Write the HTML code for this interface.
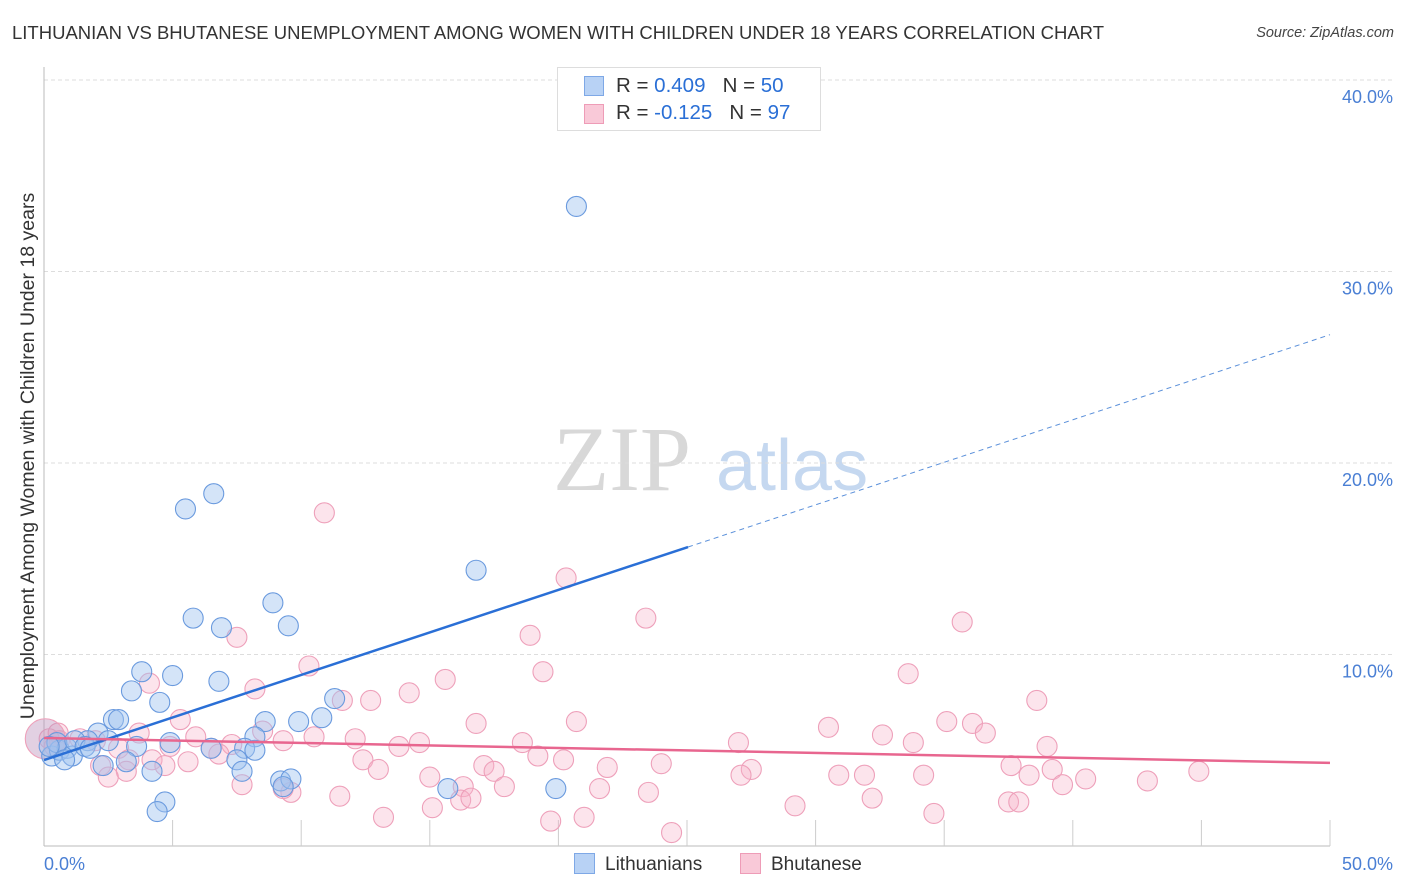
<!DOCTYPE html>
<html><head><meta charset="utf-8"><style>
body{margin:0;background:#fff;font-family:"Liberation Sans",sans-serif;}
#wrap{position:relative;width:1406px;height:892px;overflow:hidden;}
.t{position:absolute;white-space:nowrap;}
</style></head><body>
<div id="wrap">
<div class="t" style="left:12px;top:22px;font-size:18.5px;color:#333;">LITHUANIAN VS BHUTANESE UNEMPLOYMENT AMONG WOMEN WITH CHILDREN UNDER 18 YEARS CORRELATION CHART</div>
<div class="t" style="right:12px;top:25px;font-size:14.5px;color:#444;font-style:italic;">Source: ZipAtlas.com</div>
<svg id="svg" width="1406" height="892" style="position:absolute;left:0;top:0"></svg>
</div>
<script>
const yTicks=[10,20,30,40];
const yTickLabels=["10.0%","20.0%","30.0%","40.0%"];
const xTickVals=[5,10,15,20,25,30,35,40,45,50];
const xEndLabels=["0.0%","50.0%"];
const blueX=[20.7,6.6,5.5,16.8,8.9,5.8,6.9,9.5,3.8,5.0,6.8,3.4,4.5,11.3,10.8,2.7,2.9,8.6,9.9,2.1,1.7,2.5,3.6,4.9,8.2,6.5,7.8,8.2,7.5,0.3,0.6,0.9,1.1,0.5,2.3,3.2,4.2,7.7,9.2,9.6,9.3,15.7,19.9,4.7,4.4,0.2,1.2,1.6,0.8,1.8];
const blueY=[33.4,18.4,17.6,14.4,12.7,11.9,11.4,11.5,9.1,8.9,8.6,8.1,7.5,7.7,6.7,6.6,6.6,6.5,6.5,5.9,5.5,5.5,5.2,5.4,5.7,5.1,5.1,5.0,4.5,4.7,5.0,5.1,4.7,5.4,4.2,4.4,3.9,3.9,3.4,3.5,3.1,3.0,3.0,2.3,1.8,5.2,5.5,5.2,4.5,5.1];
const pinkX=[10.9,20.3,23.4,35.7,18.9,7.5,10.3,19.4,33.6,15.6,4.1,8.2,14.2,38.6,11.6,12.7,20.7,16.8,35.1,36.1,30.5,5.3,36.6,3.7,5.9,10.5,12.1,32.6,27.0,33.8,8.5,9.3,39.0,18.6,14.6,13.8,6.5,7.3,2.9,4.9,2.0,1.4,0.6,0.2,0.4,6.8,12.4,4.2,3.3,5.6,4.7,2.2,3.2,20.2,19.2,17.1,27.5,24.0,21.9,13.0,17.5,37.6,39.2,27.1,30.9,31.9,34.2,38.3,40.5,42.9,44.9,2.5,7.7,15.0,17.9,16.3,21.6,23.5,9.6,9.3,11.5,16.2,16.6,15.1,29.2,32.2,34.6,37.5,37.9,39.6,13.2,19.7,21.0,24.4,0.55,0.05];
const pinkY=[17.4,14.0,11.9,11.7,11.0,10.9,9.4,9.1,9.0,8.7,8.5,8.2,8.0,7.6,7.6,7.6,6.5,6.4,6.5,6.4,6.2,6.6,5.9,5.9,5.7,5.7,5.6,5.8,5.4,5.4,6.0,5.5,5.2,5.4,5.4,5.2,5.1,5.3,5.1,5.2,5.5,5.6,5.5,5.6,5.2,4.8,4.5,4.5,4.5,4.4,4.2,4.2,3.9,4.5,4.7,4.2,4.0,4.3,4.1,4.0,3.9,4.2,4.0,3.7,3.7,3.7,3.7,3.7,3.5,3.4,3.9,3.6,3.2,3.6,3.1,3.1,3.0,2.8,2.8,3.0,2.6,2.4,2.5,2.0,2.1,2.5,1.7,2.3,2.3,3.2,1.5,1.3,1.5,0.7,5.9,5.6];
const blueLine=[4.49,26.7]; const blueSolidEnd=25.04;
const pinkLine=[5.64,4.34];
const svg=document.getElementById('svg');const NS='http://www.w3.org/2000/svg';
const X=v=>44+v*25.72, Y=v=>846-v*19.15;
function mk(tag,attrs,parent){const e=document.createElementNS(NS,tag);for(const k in attrs)e.setAttribute(k,attrs[k]);(parent||svg).appendChild(e);return e;}
let wm=mk('text',{x:553,y:490,'font-size':92,'font-family':'Liberation Serif, serif',fill:'#d8d8d8'});wm.textContent='ZIP';


let wm2=mk('text',{x:716,y:490,'font-size':72,'font-family':'Liberation Sans, sans-serif',fill:'#c5d8f0'});wm2.textContent='atlas';


yTicks.forEach((t,i)=>{
 let g=mk('line',{x1:44,x2:1392,y1:Y(t),y2:Y(t),stroke:'#ddd','stroke-dasharray':'4,3'});
 
 
 let l=mk('text',{x:1393,y:Y(t)+23,'text-anchor':'end','font-size':18,fill:'#4a7fd4'});l.textContent=yTickLabels[i];
 
 
});
let ax=mk('line',{x1:44,x2:44,y1:67,y2:846,stroke:'#bbb'});


let bx=mk('line',{x1:44,x2:1330,y1:846,y2:846,stroke:'#bbb'});


xTickVals.forEach(t=>{let k=mk('line',{x1:X(t),x2:X(t),y1:820,y2:846,stroke:'#ccc'});
 
 });
xEndLabels.forEach((s,i)=>{let l=mk('text',{x:i?1393:44,y:870,'text-anchor':i?'end':'start','font-size':18,fill:'#4a7fd4'});l.textContent=s;
 
 });
let yt=mk('text',{transform:'translate(34,456) rotate(-90)','text-anchor':'middle','font-size':19.5,fill:'#333'});yt.textContent='Unemployment Among Women with Children Under 18 years';


pinkX.forEach((x,i)=>{let c=mk('circle',{cx:X(x),cy:Y(pinkY[i]),r:i==pinkX.length-1?20:10,fill:i==pinkX.length-1?'rgba(190,150,190,0.45)':'rgba(246,178,200,0.35)',stroke:'#eea0ba','stroke-width':1.1});
 
 });
blueX.forEach((x,i)=>{let c=mk('circle',{cx:X(x),cy:Y(blueY[i]),r:10,fill:'rgba(160,195,240,0.45)',stroke:'#6a9ade','stroke-width':1.1});
 
 });
const by=x=>blueLine[0]+(blueLine[1]-blueLine[0])*x/50;
let bl=mk('line',{x1:X(0),y1:Y(by(0)),x2:X(blueSolidEnd),y2:Y(by(blueSolidEnd)),stroke:'#2a6fd6','stroke-width':2.5});


let bd=mk('line',{x1:X(blueSolidEnd),y1:Y(by(blueSolidEnd)),x2:X(50),y2:Y(by(50)),stroke:'#5b90da','stroke-width':1,'stroke-dasharray':'5,4'});


let pl=mk('line',{x1:X(0),y1:Y(pinkLine[0]),x2:X(50),y2:Y(pinkLine[1]),stroke:'#e8668f','stroke-width':2.5});


</script>
<div class="t" style="left:557px;top:67px;width:262px;height:62px;border:1px solid #ddd;background:#fff;font-size:20.5px;color:#333;">
 <div style="position:absolute;left:26px;top:8px;width:18px;height:18px;background:#b8d2f5;border:1px solid #7ea8e6;"></div>
 <div style="position:absolute;left:58px;top:6px;">R = <span style="color:#2a6fd6">0.409</span>&nbsp;&nbsp;&nbsp;N = <span style="color:#2a6fd6">50</span></div>
 <div style="position:absolute;left:26px;top:36px;width:18px;height:18px;background:#f9c9d8;border:1px solid #ee9cb7;"></div>
 <div style="position:absolute;left:58px;top:33px;">R = <span style="color:#2a6fd6">-0.125</span>&nbsp;&nbsp;&nbsp;N = <span style="color:#2a6fd6">97</span></div>
</div>
<div class="t" style="left:574px;top:853px;font-size:19px;color:#333;"><span style="display:inline-block;width:19px;height:19px;background:#b8d2f5;border:1px solid #7ea8e6;vertical-align:-4px;margin-right:10px"></span>Lithuanians</div>
<div class="t" style="left:740px;top:853px;font-size:19px;color:#333;"><span style="display:inline-block;width:19px;height:19px;background:#f9c9d8;border:1px solid #ee9cb7;vertical-align:-4px;margin-right:10px"></span>Bhutanese</div>
</body></html>
